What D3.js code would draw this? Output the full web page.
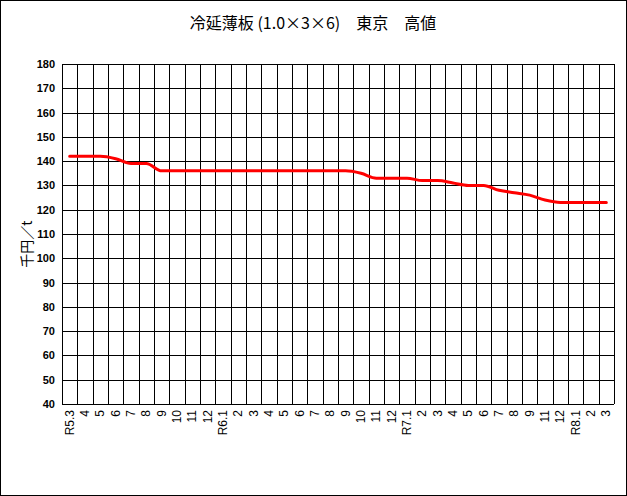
<!DOCTYPE html>
<html><head><meta charset="utf-8">
<script src="https://cdn.jsdelivr.net/npm/d3@7"></script>
<style>body{margin:0;background:#fff}svg{display:block}</style>
</head><body>
<script>
const categories = ["R5.3","4","5","6","7","8","9","10","11","12",
  "R6.1","2","3","4","5","6","7","8","9","10","11","12",
  "R7.1","2","3","4","5","6","7","8","9","11","12",
  "R8.1","2","3"];
const values = [142,142,142,141,139,139,136,136,136,136,
  136,136,136,136,136,136,136,136,136,135,133,133,
  133,132,132,131,130,130,128,127,126,124,123,
  123,123,123];
const yTicks = [40,50,60,70,80,90,100,110,120,130,140,150,160,170,180];
const title = "冷延薄板 (1.0×3×6)　東京　高値";
const yLabel = "千円／t";

(function(){
const W = 627, H = 496;
const pL = 62, pR = 614, pT = 64, pB = 404;
const svg = d3.select("body").append("svg").attr("width", W).attr("height", H);
svg.append("rect").attr("x",0.5).attr("y",0.5).attr("width",W-1).attr("height",H-1)
  .attr("fill","#fff").attr("stroke","#000");

const keys = categories.map((c,i)=>i);
const x = d3.scaleBand().domain(keys).range([pL,pR]);
const y = d3.scaleLinear().domain([40,180]).range([pB,pT]);

const g = svg.append("g");
g.selectAll("line.h").data(yTicks).join("line")
  .attr("x1",pL).attr("x2",pR)
  .attr("y1",d=>Math.round(y(d))+0.5).attr("y2",d=>Math.round(y(d))+0.5)
  .attr("stroke","#000").attr("stroke-width",1);
g.selectAll("line.v").data(keys.concat([keys.length])).join("line")
  .attr("x1",d=>Math.round(d<keys.length?x(d):pR)+0.5)
  .attr("x2",d=>Math.round(d<keys.length?x(d):pR)+0.5)
  .attr("y1",pT).attr("y2",pB)
  .attr("stroke","#000").attr("stroke-width",1);

const yAxis = d3.axisLeft(y).tickValues(yTicks).tickSize(0).tickPadding(7);
const ya = svg.append("g").attr("transform",`translate(${pL},0)`).call(yAxis);
ya.select(".domain").remove();
ya.selectAll("text").attr("font-family","Liberation Sans, Arial, sans-serif")
  .attr("font-weight","bold").attr("font-size","11px").attr("fill","#000");

const xAxis = d3.axisBottom(x).tickFormat(i=>categories[i]).tickSize(0).tickPadding(0);
const xa = svg.append("g").attr("transform",`translate(0,${pB})`).call(xAxis);
xa.select(".domain").remove();
xa.selectAll("text")
  .attr("font-family","Liberation Sans, Arial, sans-serif")
  .attr("font-size","12px").attr("fill","#000")
  .attr("text-anchor","end")
  .attr("dy",null).attr("y",null)
  .attr("transform","translate(4,6) rotate(-90)");

const line = d3.line().x((d,i)=>x(i)+x.bandwidth()/2).y(d=>y(d)).curve(d3.curveMonotoneX);
svg.append("path").datum(values).attr("d",line)
  .attr("fill","none").attr("stroke","#ff0000").attr("stroke-width",3)
  .attr("stroke-linejoin","round").attr("stroke-linecap","round");

svg.append("text").attr("x",313).attr("y",29).attr("text-anchor","middle")
  .attr("font-family","Noto Sans CJK JP, sans-serif").attr("font-size","16px")
  .attr("fill","#000").text(title);

svg.append("text").attr("transform",`translate(32,${(pT+pB)/2+10}) rotate(-90)`)
  .attr("text-anchor","middle").attr("font-family","Noto Sans CJK JP, sans-serif")
  .attr("font-size","14px").attr("fill","#000").text(yLabel);
})();
</script>
</body></html>
